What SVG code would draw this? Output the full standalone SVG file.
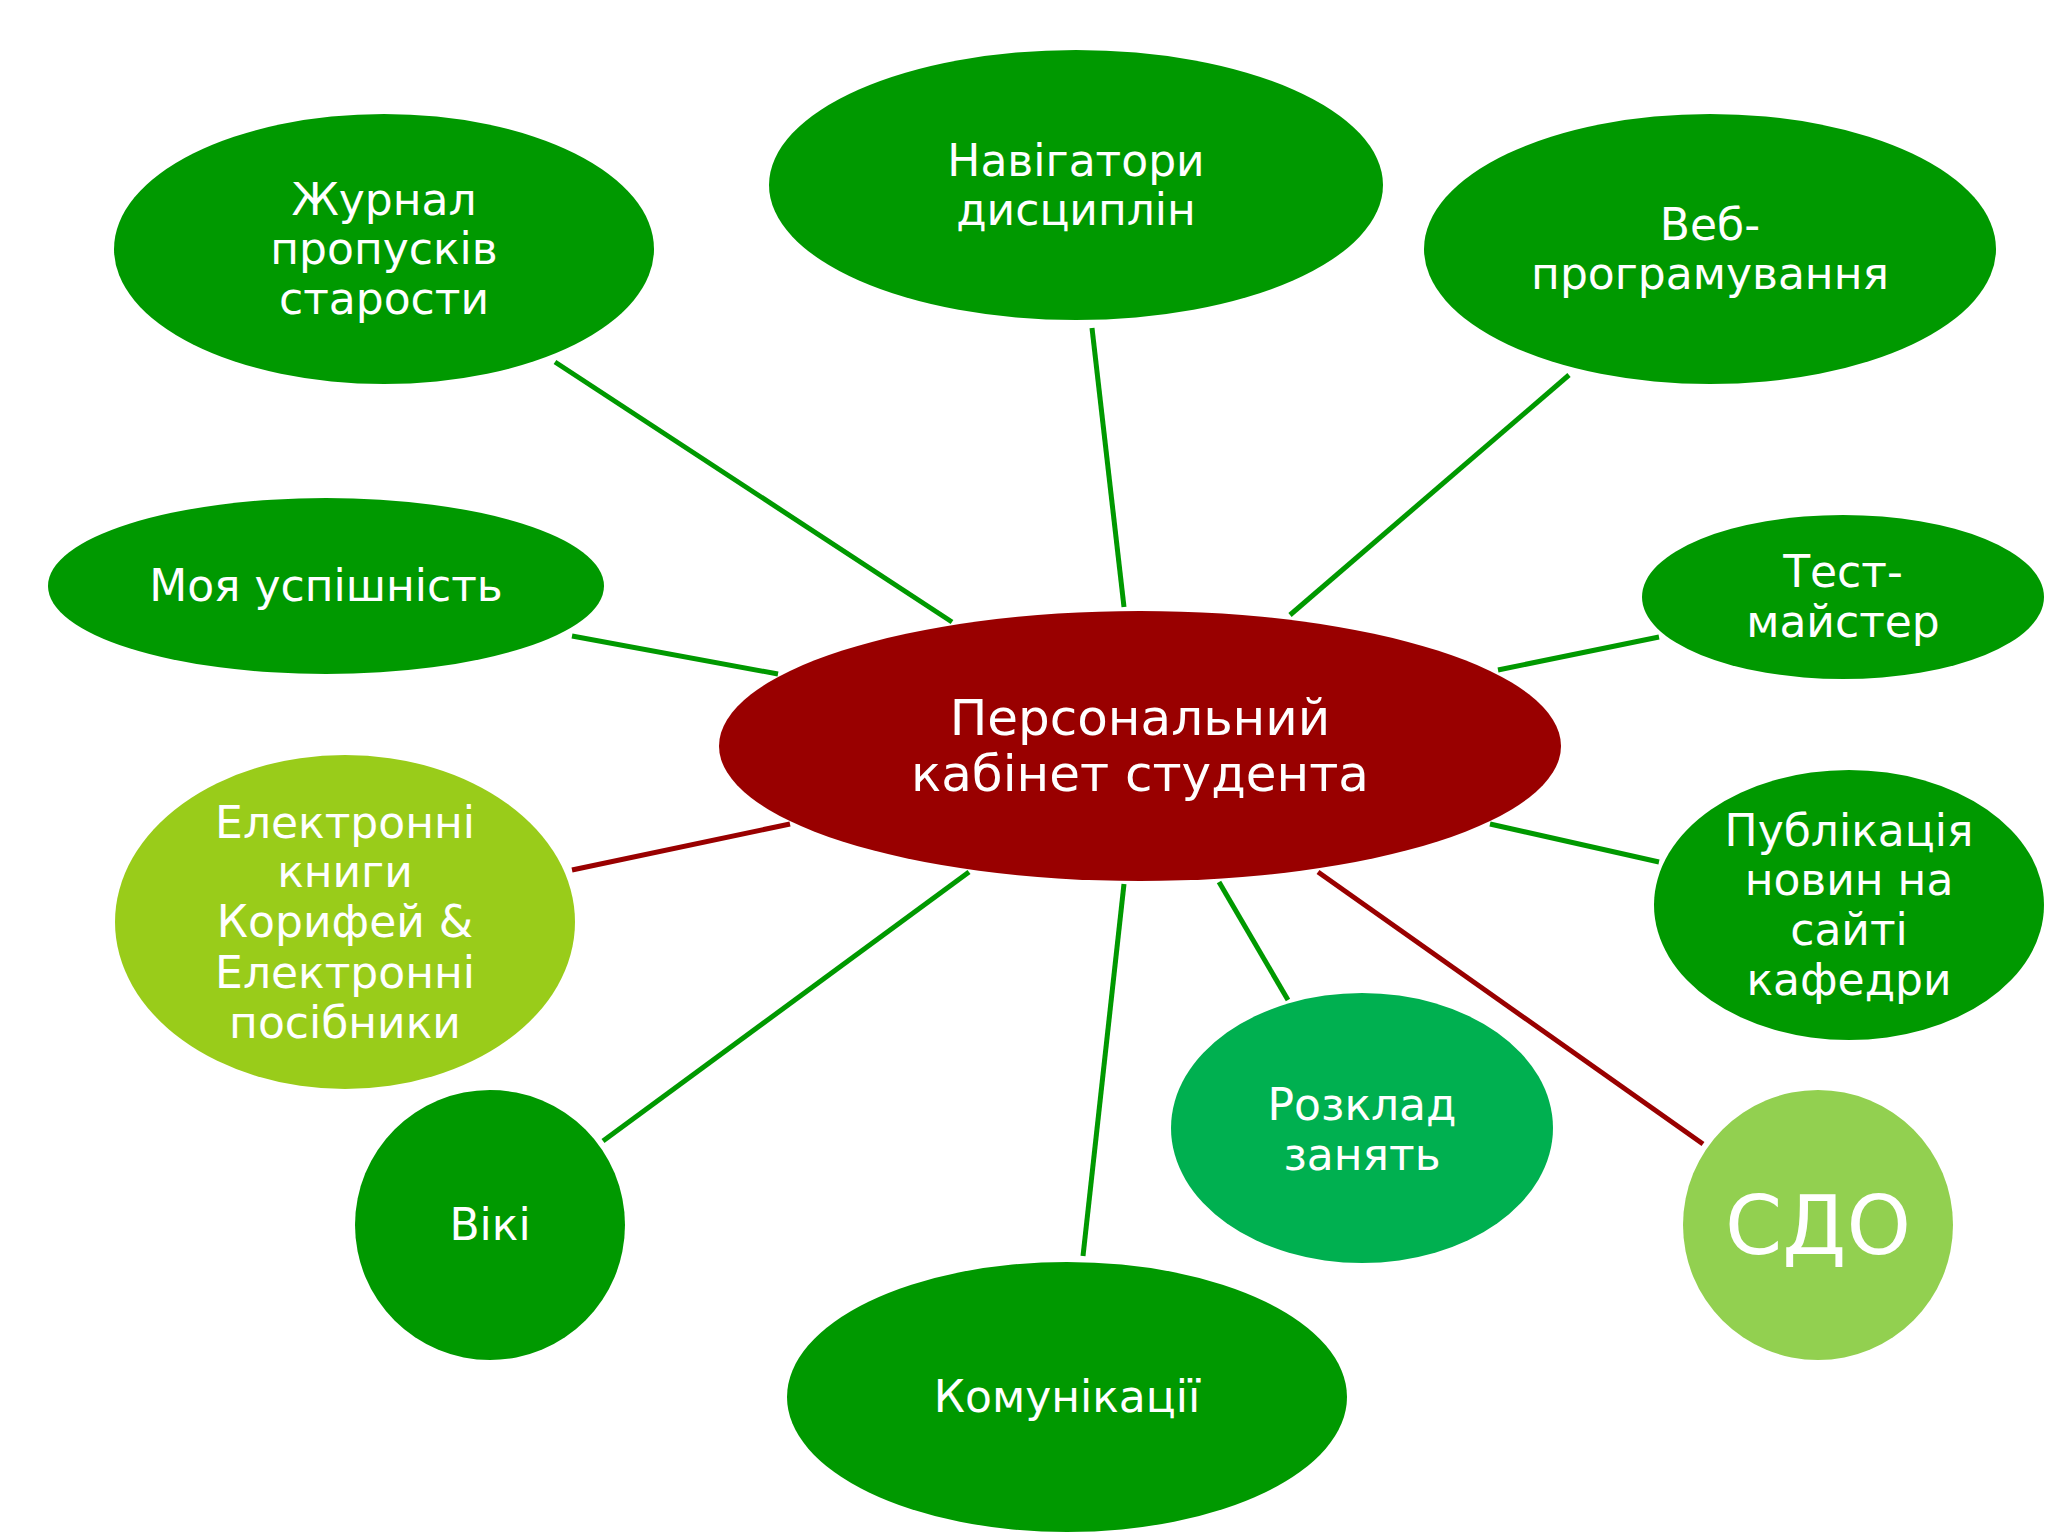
<svg xmlns="http://www.w3.org/2000/svg" width="2048" height="1536" viewBox="0 0 2048 1536">
<style>
.n{fill:#009900}
.t{fill:#ffffff;font-family:"DejaVu Sans","Verdana",sans-serif;font-size:44px;text-anchor:middle}
.g{stroke:#009900;stroke-width:5;fill:none}
.r{stroke:#990000;stroke-width:5;fill:none}
</style>
<rect width="2048" height="1536" fill="#ffffff"/>
<g id="connectors">
<line class="g" x1="555" y1="362" x2="952" y2="622"/>
<line class="g" x1="1092" y1="328" x2="1124" y2="607"/>
<line class="g" x1="1569" y1="375" x2="1290" y2="615"/>
<line class="g" x1="572" y1="636" x2="778" y2="674"/>
<line class="g" x1="1498" y1="670" x2="1659" y2="637"/>
<line class="r" x1="572" y1="870" x2="790" y2="824"/>
<line class="g" x1="1490" y1="824" x2="1659" y2="862"/>
<line class="r" x1="1318" y1="872" x2="1703" y2="1144"/>
<line class="g" x1="1219" y1="882" x2="1288" y2="1000"/>
<line class="g" x1="1124" y1="884" x2="1083" y2="1256"/>
<line class="g" x1="969" y1="872" x2="603" y2="1141"/>
</g>
<g id="zhurnal"><ellipse class="n" cx="384" cy="249" rx="270" ry="135"/>
<text class="t" x="384" y="215">Журнал</text><text class="t" x="384" y="264">пропусків</text><text class="t" x="384" y="314">старости</text></g>
<g id="navigatory"><ellipse class="n" cx="1076" cy="185" rx="307" ry="135"/>
<text class="t" x="1076" y="176">Навігатори</text><text class="t" x="1076" y="225">дисциплін</text></g>
<g id="veb"><ellipse class="n" cx="1710" cy="249" rx="286" ry="135"/>
<text class="t" x="1710" y="240">Веб-</text><text class="t" x="1710" y="289">програмування</text></g>
<g id="uspishnist"><ellipse class="n" cx="326" cy="586" rx="278" ry="88"/>
<text class="t" x="326" y="601">Моя успішність</text></g>
<g id="test"><ellipse class="n" cx="1843" cy="597" rx="201" ry="82"/>
<text class="t" x="1843" y="587">Тест-</text><text class="t" x="1843" y="637">майстер</text></g>
<g id="center"><ellipse fill="#990000" cx="1140" cy="746" rx="421" ry="135"/>
<text class="t" style="font-size:50px" x="1140" y="735">Персональний</text><text class="t" style="font-size:50px" x="1140" y="791">кабінет студента</text></g>
<g id="knyhy"><ellipse fill="#99CC1A" cx="345" cy="922" rx="230" ry="167"/>
<text class="t" x="345" y="838">Електронні</text><text class="t" x="345" y="887">книги</text><text class="t" x="345" y="937">Корифей &amp;</text><text class="t" x="345" y="988">Електронні</text><text class="t" x="345" y="1038">посібники</text></g>
<g id="publikatsiia"><ellipse class="n" cx="1849" cy="905" rx="195" ry="135"/>
<text class="t" x="1849" y="846">Публікація</text><text class="t" x="1849" y="895">новин на</text><text class="t" x="1849" y="945">сайті</text><text class="t" x="1849" y="995">кафедри</text></g>
<g id="rozklad"><ellipse fill="#00B050" cx="1362" cy="1128" rx="191" ry="135"/>
<text class="t" x="1362" y="1120">Розклад</text><text class="t" x="1362" y="1170">занять</text></g>
<g id="viki"><ellipse class="n" cx="490" cy="1225" rx="135" ry="135"/>
<text class="t" x="490" y="1240">Вікі</text></g>
<g id="sdo"><ellipse fill="#92D050" cx="1818" cy="1225" rx="135" ry="135"/>
<text class="t" style="font-size:82px" x="1818" y="1254">СДО</text></g>
<g id="komunikatsii"><ellipse class="n" cx="1067" cy="1397" rx="280" ry="135"/>
<text class="t" x="1067" y="1412">Комунікації</text></g>
</svg>
